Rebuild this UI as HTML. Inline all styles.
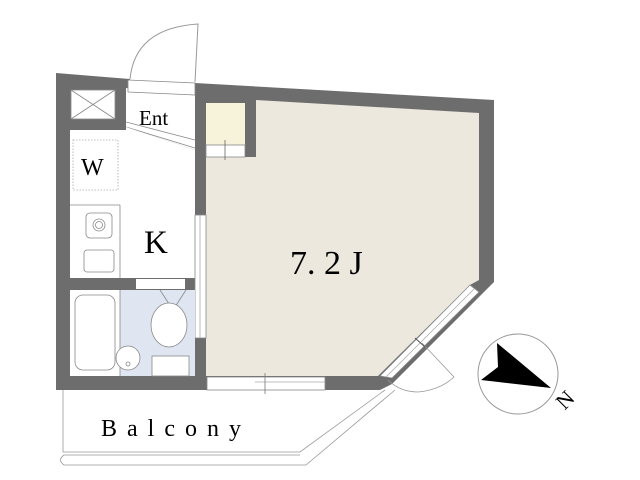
<!DOCTYPE html>
<html><head><style>body{margin:0;background:#fff}svg{display:block}</style></head><body>
<svg width="640" height="480" viewBox="0 0 640 480" xmlns="http://www.w3.org/2000/svg" font-family="Liberation Serif, serif">
<rect width="640" height="480" fill="#fff"/>
<path d="M130 79 Q135 28 198 24 L195 82" fill="none" stroke="#999" stroke-width="1"/>
<polygon points="56,73 130,79 130,93 195,96 195,83 494,100 494,282 392,384 380,390 56,390" fill="#6d6d6d"/>
<polygon points="206,157 256,157 256,100 479,113 479,280 470,285 378,376 206,376" fill="#ece8de"/>
<rect x="206" y="103" width="39" height="42" fill="#f6f3da"/>
<rect x="206" y="145" width="39" height="12" fill="#fff" stroke="#888" stroke-width="0.8"/>
<line x1="225" y1="140" x2="225" y2="160" stroke="#666" stroke-width="0.8"/>
<polygon points="126,88 195,96 195,150 126,127" fill="#fff"/>
<polygon points="128,80 195,83 195,95 128,92" fill="#fff" stroke="#888" stroke-width="0.8"/>
<line x1="126" y1="122" x2="195" y2="140" stroke="#888" stroke-width="0.8"/>
<line x1="126" y1="127" x2="195" y2="148" stroke="#888" stroke-width="0.8"/>
<text x="139" y="125" font-size="21">Ent</text>
<polygon points="70,130 126,130 126,127 195,150 195,278 70,278" fill="#fff"/>
<rect x="70" y="88" width="45" height="30" fill="#6d6d6d"/>
<rect x="71" y="90" width="44" height="29" fill="#fff" stroke="#888" stroke-width="0.8"/>
<line x1="71" y1="90" x2="115" y2="119" stroke="#888" stroke-width="0.8"/>
<line x1="115" y1="90" x2="71" y2="119" stroke="#888" stroke-width="0.8"/>
<rect x="73" y="140" width="45" height="50" fill="none" stroke="#aaa" stroke-width="0.8" stroke-dasharray="1.5,1.5"/>
<text x="81" y="175" font-size="24">W</text>
<line x1="70" y1="205" x2="120" y2="205" stroke="#888" stroke-width="0.8"/>
<line x1="120" y1="205" x2="120" y2="278" stroke="#888" stroke-width="0.8"/>
<rect x="86" y="213" width="26" height="25" rx="4" fill="none" stroke="#888" stroke-width="0.8"/>
<circle cx="99" cy="225" r="6" fill="none" stroke="#888" stroke-width="0.8"/>
<circle cx="99" cy="225" r="3.5" fill="none" stroke="#888" stroke-width="0.8"/>
<rect x="84" y="250" width="30" height="22" rx="3" fill="none" stroke="#888" stroke-width="0.8"/>
<text x="144" y="253" font-size="33">K</text>
<rect x="195" y="215" width="11" height="123" fill="#fff" stroke="#888" stroke-width="0.8"/>
<line x1="200" y1="215" x2="200" y2="338" stroke="#aaa" stroke-width="0.8"/>
<rect x="70" y="290" width="125" height="86" fill="#fff"/>
<rect x="120" y="290" width="75" height="86" fill="#dfe6f2"/>
<rect x="136" y="279" width="49" height="10" fill="#fff"/>
<line x1="120" y1="290" x2="120" y2="376" stroke="#888" stroke-width="0.8"/>
<rect x="75" y="295" width="40" height="75" rx="8" fill="none" stroke="#888" stroke-width="0.8"/>
<circle cx="128" cy="358" r="12" fill="#fff" stroke="#888" stroke-width="0.8"/>
<circle cx="128" cy="364" r="2" fill="none" stroke="#888" stroke-width="0.8"/>
<polyline points="160,290 173,310 186,290" fill="none" stroke="#888" stroke-width="0.8"/>
<ellipse cx="169" cy="325" rx="18" ry="22" fill="#fff" stroke="#888" stroke-width="0.8"/>
<rect x="152" y="356" width="37" height="20" fill="#fff" stroke="#888" stroke-width="0.8"/>
<rect x="207" y="377" width="118" height="13" fill="#fff" stroke="#888" stroke-width="0.8"/>
<line x1="255" y1="382" x2="325" y2="382" stroke="#aaa" stroke-width="0.8"/>
<line x1="265" y1="373" x2="265" y2="394" stroke="#777" stroke-width="0.8"/>
<polygon points="470,285 479,292 392,378 380,376" fill="#fff" stroke="#888" stroke-width="0.8"/>
<line x1="474" y1="289" x2="386" y2="377" stroke="#aaa" stroke-width="0.8"/>
<path d="M388 380 Q400 392 418 392 Q440 390 454 377 L422 343" fill="none" stroke="#999" stroke-width="0.8"/>
<line x1="415" y1="338" x2="425" y2="347" stroke="#555" stroke-width="1"/>
<path d="M63 390 L63 452 L300 452 L385 390" fill="none" stroke="#999" stroke-width="0.8"/>
<path d="M395 390 L306 465 L64 465 Q57 460 64 455 L300 455" fill="none" stroke="#999" stroke-width="0.8"/>
<text x="101" y="436" font-size="24" letter-spacing="10">Balcony</text>
<text x="290" y="274" font-size="34">7. 2 J</text>
<circle cx="518" cy="374" r="40" fill="#fff" stroke="#999" stroke-width="1"/>
<polygon points="497,343 551,388 481,380 498,367" fill="#000"/>
<text x="556" y="398" font-size="22" transform="rotate(-45 566 398) translate(0,8)">N</text>
</svg>
</body></html>
